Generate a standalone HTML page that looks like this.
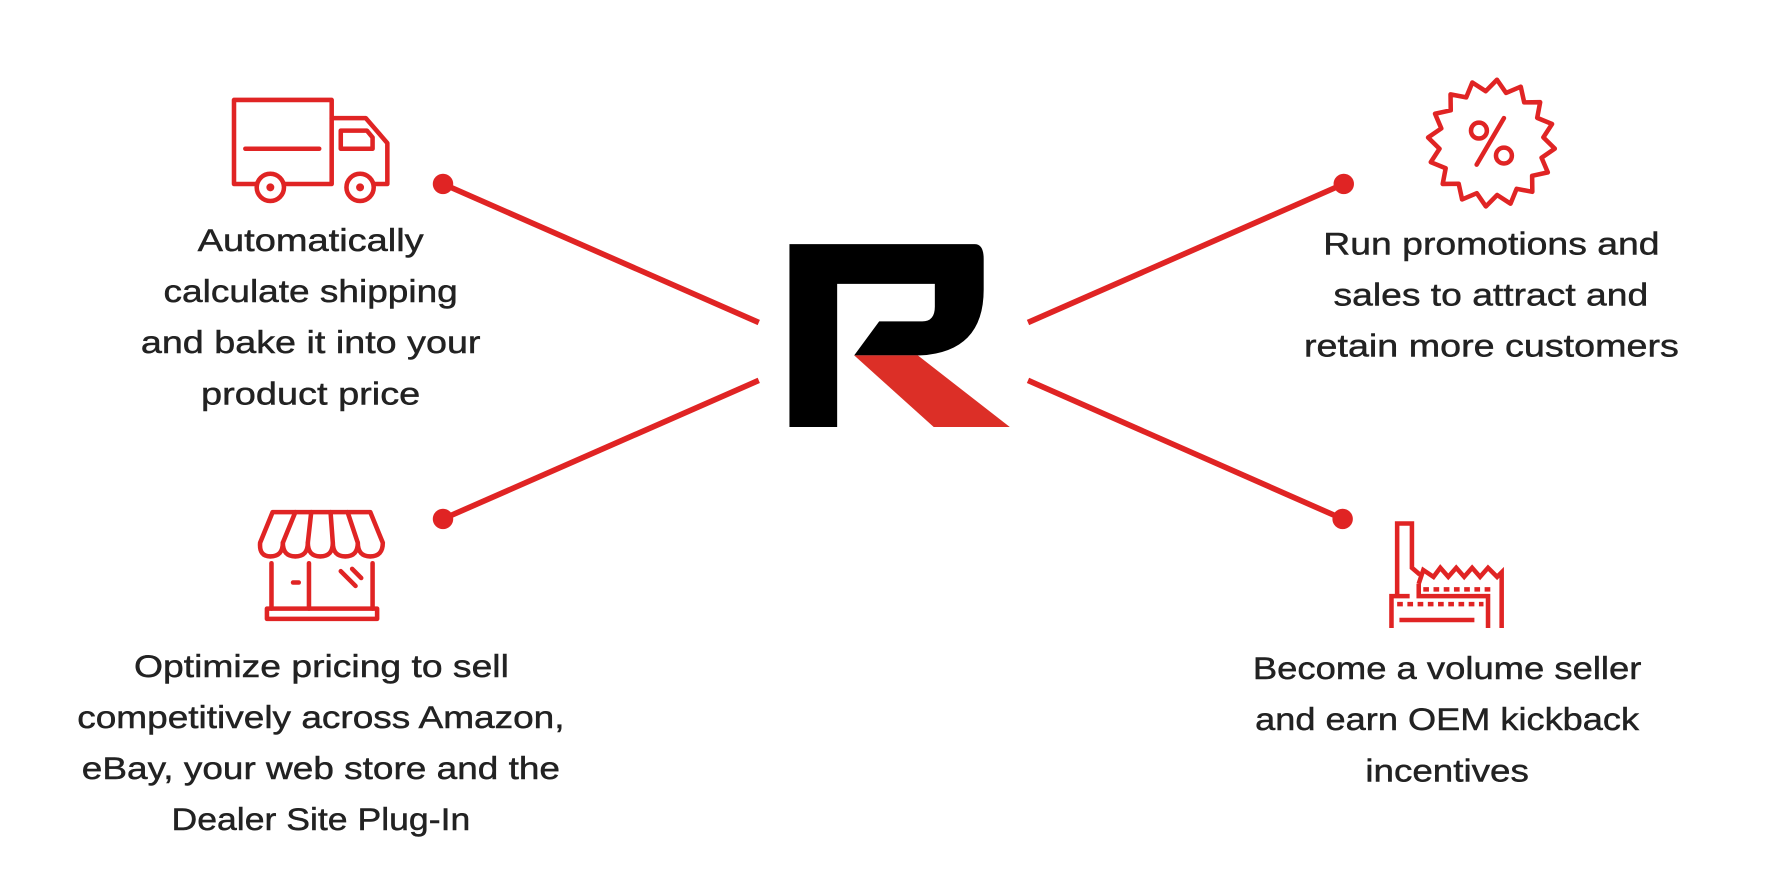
<!DOCTYPE html>
<html><head><meta charset="utf-8"><style>
html,body{margin:0;padding:0;background:#fff;}
svg{display:block;}
text{font-family:"Liberation Sans","DejaVu Sans",sans-serif;font-size:28px;fill:#222;stroke:#222;stroke-width:0.4;}
</style></head><body>
<svg width="1772" height="888" viewBox="0 0 1560 782" preserveAspectRatio="none" xmlns="http://www.w3.org/2000/svg">
<rect width="1560" height="782" fill="#fff"/>
<g stroke="#e02424" stroke-width="5" fill="none">
<line x1="390" y1="162" x2="668" y2="284"/>
<line x1="390" y1="457" x2="668" y2="335"/>
<line x1="1183" y1="162" x2="905" y2="284"/>
<line x1="1182" y1="457" x2="905" y2="335"/>
</g>
<g fill="#e02424">
<circle cx="390" cy="162" r="9"/><circle cx="390" cy="457" r="9"/>
<circle cx="1183" cy="162" r="9"/><circle cx="1182" cy="457" r="9"/>
</g>
<path d="M695,215 L858,215 Q866,215 866,228 L866,255 Q866,310 810,313 L752,313 L774,283 L812,283 Q823,283 823,270 L823,250 L737,250 L737,376 L695,376 Z" fill="#000"/>
<polygon points="752,313 808,313 889,376 822,376" fill="#dc2f27"/>
<!-- truck -->
<g stroke="#e02424" stroke-width="4" fill="none" stroke-linejoin="round" stroke-linecap="round">
<path d="M292,162 L206,162 L206,88 L292,88 Z"/>
<path d="M292,104 L322,104 L341,126 L341,162 L330,162"/>
<path d="M300,115 L323,115 L328,121 L328,131 L300,131 Z"/>
<line x1="216" y1="131" x2="281" y2="131"/>
<circle cx="238" cy="165" r="12" fill="#fff"/><circle cx="317" cy="165" r="12" fill="#fff"/>
</g>
<g fill="#e02424"><circle cx="238" cy="165" r="3.5"/><circle cx="317" cy="165" r="3.5"/></g>
<!-- badge -->
<g transform="translate(1313,126) rotate(5)" stroke="#e02424" stroke-width="4" fill="none" stroke-linejoin="round">
<polygon points="56,0 45.1,9 51.7,21.4 38.2,25.6 39.6,39.6 25.6,38.2 21.4,51.7 9,45.1 0,56 -9,45.1 -21.4,51.7 -25.6,38.2 -39.6,39.6 -38.2,25.6 -51.7,21.4 -45.1,9 -56,0 -45.1,-9 -51.7,-21.4 -38.2,-25.6 -39.6,-39.6 -25.6,-38.2 -21.4,-51.7 -9,-45.1 0,-56 9,-45.1 21.4,-51.7 25.6,-38.2 39.6,-39.6 38.2,-25.6 51.7,-21.4 45.1,-9"/>
</g>
<g stroke="#e02424" stroke-width="4" fill="none" stroke-linecap="round">
<circle cx="1302" cy="115" r="7"/><circle cx="1324" cy="137" r="7"/>
<line x1="1324" y1="104" x2="1300" y2="145"/>
</g>
<!-- store -->
<g stroke="#e02424" stroke-width="4" fill="none" stroke-linejoin="round" stroke-linecap="round">
<path d="M240,451 L326,451 L337,478 Q337,490 326,490 Q315,490 315,478 Q315,490 304,490 Q293,490 293,478 Q293,490 282,490 Q271,490 271,478 Q271,490 260,490 Q249,490 249,478 Q249,490 238,490 Q228,490 229,478 Z"/>
<line x1="249" y1="478" x2="260" y2="451"/><line x1="271" y1="478" x2="274" y2="451"/>
<line x1="293" y1="478" x2="291" y2="451"/><line x1="315" y1="478" x2="306" y2="451"/>
<line x1="239" y1="496" x2="239" y2="536"/><line x1="328" y1="496" x2="328" y2="536"/>
<line x1="272" y1="496" x2="272" y2="536"/>
<line x1="258" y1="513" x2="263" y2="513"/>
<line x1="300" y1="503" x2="313" y2="516"/><line x1="310" y1="501" x2="318" y2="509"/>
<rect x="235" y="536" width="97" height="9"/>
</g>
<!-- factory -->
<g stroke="#e02424" stroke-width="4" fill="none" stroke-linejoin="miter">
<path d="M1225,553 L1225,525 L1241,525 M1230,525 L1230,461 L1243,461 L1243,500 L1250,506"/>
<path d="M1249,514 L1253,502 L1262,508 L1268,500 L1275,508 L1282,500 L1289,508 L1296,500 L1303,508 L1310,500 L1318,508 L1322,504 L1322,553"/>
<path d="M1249,514 L1249,525 L1310,525 L1310,553"/>
<line x1="1232" y1="546" x2="1298" y2="546"/>
</g>
<g stroke="#e02424" stroke-width="4" stroke-dasharray="5,4" fill="none">
<line x1="1253" y1="519" x2="1316" y2="519"/>
<line x1="1230" y1="532" x2="1306" y2="532"/>
</g>
<!-- text -->
<text x="174" y="221" textLength="199" lengthAdjust="spacingAndGlyphs">Automatically</text>
<text x="144" y="266" textLength="259" lengthAdjust="spacingAndGlyphs">calculate shipping</text>
<text x="124" y="311" textLength="299" lengthAdjust="spacingAndGlyphs">and bake it into your</text>
<text x="177" y="356" textLength="193" lengthAdjust="spacingAndGlyphs">product price</text>
<text x="1165" y="224" textLength="296" lengthAdjust="spacingAndGlyphs">Run promotions and</text>
<text x="1174" y="269" textLength="277" lengthAdjust="spacingAndGlyphs">sales to attract and</text>
<text x="1148" y="314" textLength="330" lengthAdjust="spacingAndGlyphs">retain more customers</text>
<text x="118" y="596" textLength="330" lengthAdjust="spacingAndGlyphs">Optimize pricing to sell</text>
<text x="68" y="641" textLength="429" lengthAdjust="spacingAndGlyphs">competitively across Amazon,</text>
<text x="72" y="686" textLength="421" lengthAdjust="spacingAndGlyphs">eBay, your web store and the</text>
<text x="151" y="731" textLength="263" lengthAdjust="spacingAndGlyphs">Dealer Site Plug-In</text>
<text x="1103" y="598" textLength="342" lengthAdjust="spacingAndGlyphs">Become a volume seller</text>
<text x="1105" y="643" textLength="338" lengthAdjust="spacingAndGlyphs">and earn OEM kickback</text>
<text x="1202" y="688" textLength="144" lengthAdjust="spacingAndGlyphs">incentives</text>
</svg>
</body></html>
